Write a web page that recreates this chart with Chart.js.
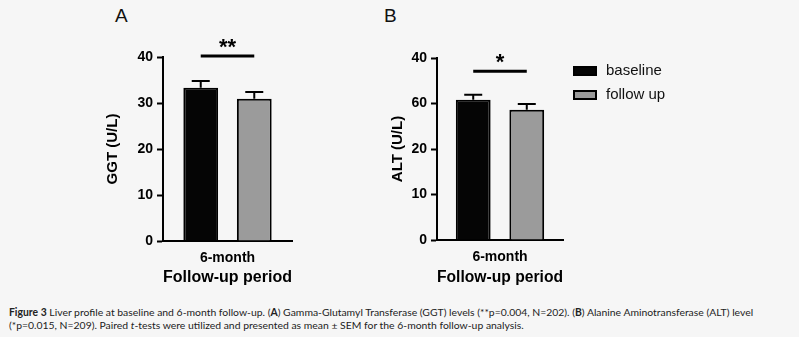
<!DOCTYPE html>
<html>
<head>
<meta charset="utf-8">
<script src="https://cdn.jsdelivr.net/npm/chart.js@4.4.0/dist/chart.umd.min.js"></script>
<style>
  html, body { margin: 0; padding: 0; }
  body { width: 799px; height: 337px; background: #f6f6f6; position: relative; overflow: hidden; font-family: "Liberation Sans", Arial, sans-serif; }
  canvas { position: absolute; top: 0; }
  #chartA { left: 90px; }
  #chartB { left: 364px; }
  .panel { position: absolute; top: 5px; font-size: 19px; color: #111; }
  #caption { position: absolute; left: 9px; top: 306px; font-family: "Lato", sans-serif; font-size: 10.4px; line-height: 13px; color: #222; white-space: nowrap; }
</style>
</head>
<body>
<div class="panel" style="left:115px">A</div>
<div class="panel" style="left:384px">B</div>
<canvas id="chartA" width="210" height="290"></canvas>
<canvas id="chartB" width="340" height="290"></canvas>
<div id="caption">
  <b>Figure 3</b> Liver profile at baseline and 6-month follow-up. (<b>A</b>) Gamma-Glutamyl Transferase (GGT) levels (**p=0.004, N=202). (<b>B</b>) Alanine Aminotransferase (ALT) level<br>
  (*p=0.015, N=209). Paired <i>t</i>-tests were utilized and presented as mean ± SEM for the 6-month follow-up analysis.
</div>
<script>
const categories = ["6-month"];
const seriesNames = ["baseline", "follow up"];

const ggtBaseline = [33.3];
const ggtFollowUp = [30.9];
const ggtSem = [1.5, 1.5];

const altBaseline = [30.8];
const altFollowUp = [28.6];
const altSem = [1.1, 1.3];

const tickLabelsA = ["0", "10", "20", "30", "40"];
const tickLabelsB = ["0", "10", "20", "60", "40"];

const sigA = { level: 40.2, label: "**" };
const sigB = { level: 37.1, label: "*" };

const barColors = ["#050505", "#9b9b9b"];
const font = "'Liberation Sans', Arial, sans-serif";

// error bars (upper half only, like the original)
const errorBars = {
    id: "errorBars",
    afterDatasetsDraw(chart, args, opts) {
        const ctx = chart.ctx;
        const y = chart.scales.y;
        ctx.save();
        ctx.strokeStyle = "#000";
        ctx.lineWidth = 2;
        chart.data.datasets.forEach((ds, i) => {
            chart.getDatasetMeta(i).data.forEach((bar, j) => {
                const top = y.getPixelForValue(ds.data[j]);
                const end = y.getPixelForValue(ds.data[j] + opts.sem[i]);
                ctx.beginPath();
                ctx.moveTo(bar.x, top);
                ctx.lineTo(bar.x, end);
                ctx.moveTo(bar.x - 9, end);
                ctx.lineTo(bar.x + 9, end);
                ctx.stroke();
            });
        });
        ctx.restore();
    }
};

// significance bracket between the two bars
const sigBar = {
    id: "sigBar",
    afterDatasetsDraw(chart, args, opts) {
        const ctx = chart.ctx;
        const x1 = chart.getDatasetMeta(0).data[0].x;
        const x2 = chart.getDatasetMeta(1).data[0].x;
        const yy = chart.scales.y.getPixelForValue(opts.level);
        ctx.save();
        ctx.strokeStyle = "#000";
        ctx.lineWidth = 3;
        ctx.beginPath();
        ctx.moveTo(x1, yy);
        ctx.lineTo(x2, yy);
        ctx.stroke();
        ctx.fillStyle = "#000";
        ctx.font = "bold 22px " + font;
        ctx.textAlign = "center";
        ctx.textBaseline = "alphabetic";
        ctx.fillText(opts.label, (x1 + x2) / 2, yy - 2);
        ctx.restore();
    }
};

// legend drawn from the datasets, to the right of panel B
const sideLegend = {
    id: "sideLegend",
    afterDraw(chart, args, opts) {
        if (!opts.show) return;
        const ctx = chart.ctx;
        const area = chart.chartArea;
        ctx.save();
        chart.data.datasets.forEach((ds, i) => {
            const by = area.top + 9 + i * 24;
            ctx.fillStyle = ds.backgroundColor;
            ctx.fillRect(area.right + 11, by, 22, 8);
            ctx.strokeStyle = "#000";
            ctx.lineWidth = 2;
            ctx.strokeRect(area.right + 11, by, 22, 8);
            ctx.fillStyle = "#111";
            ctx.font = "15px " + font;
            ctx.textBaseline = "middle";
            ctx.textAlign = "left";
            ctx.fillText(ds.label, area.right + 43, by + 4);
        });
        ctx.restore();
    }
};

const makeChart = (id, baseline, followUp, sem, tickLabels, sig, yTitle, cfg) => {
    new Chart(document.getElementById(id), {
        type: "bar",
        data: {
            labels: categories,
            datasets: [
                {
                    label: seriesNames[0],
                    data: baseline,
                    backgroundColor: barColors[0],
                    borderColor: "#000",
                    borderWidth: 2,
                    categoryPercentage: cfg.catPct,
                    barPercentage: 0.65,
                },
                {
                    label: seriesNames[1],
                    data: followUp,
                    backgroundColor: barColors[1],
                    borderColor: "#000",
                    borderWidth: 2,
                    categoryPercentage: cfg.catPct,
                    barPercentage: 0.65,
                },
            ],
        },
        plugins: [errorBars, sigBar, sideLegend],
        options: {
            responsive: false,
            animation: false,
            devicePixelRatio: 1,
            layout: {
                padding: { top: cfg.top, right: cfg.right, left: 0, bottom: 0 },
            },
            plugins: {
                legend: { display: false },
                tooltip: { enabled: false },
                errorBars: { sem: sem },
                sigBar: sig,
                sideLegend: { show: cfg.legend },
            },
            scales: {
                x: {
                    grid: { display: false, drawTicks: false },
                    border: { display: true, color: "#000", width: 2 },
                    ticks: {
                        color: "#000",
                        padding: 9,
                        font: { family: font, size: 14, weight: "bold" },
                    },
                    title: {
                        display: true,
                        text: "Follow-up period",
                        color: "#000",
                        padding: { top: 0, bottom: 3 },
                        font: { family: font, size: 16, weight: "bold" },
                    },
                    afterFit: (scale) => { scale.height = cfg.xHeight; },
                },
                y: {
                    min: 0,
                    max: 40,
                    grid: {
                        drawOnChartArea: false,
                        drawTicks: true,
                        tickLength: 6,
                        tickColor: "#000",
                        tickWidth: 2,
                    },
                    border: { display: true, color: "#000", width: 2 },
                    ticks: {
                        stepSize: 10,
                        padding: 4,
                        color: "#000",
                        font: { family: font, size: 14, weight: "bold" },
                        callback: (value, index) => tickLabels[index],
                    },
                    title: {
                        display: true,
                        text: yTitle,
                        color: "#000",
                        padding: { top: cfg.titlePad, bottom: 0 },
                        font: { family: font, size: 15, weight: "bold" },
                    },
                    afterFit: (scale) => { scale.width = 73; },
                },
            },
        },
    });
};

makeChart("chartA", ggtBaseline, ggtFollowUp, ggtSem, tickLabelsA, sigA, "GGT (U/L)",
    { top: 57, right: 8, xHeight: 49, catPct: 0.83, titlePad: 14, legend: false });
makeChart("chartB", altBaseline, altFollowUp, altSem, tickLabelsB, sigB, "ALT (U/L)",
    { top: 58, right: 141, xHeight: 50, catPct: 0.85, titlePad: 25, legend: true });
</script>
</body>
</html>
